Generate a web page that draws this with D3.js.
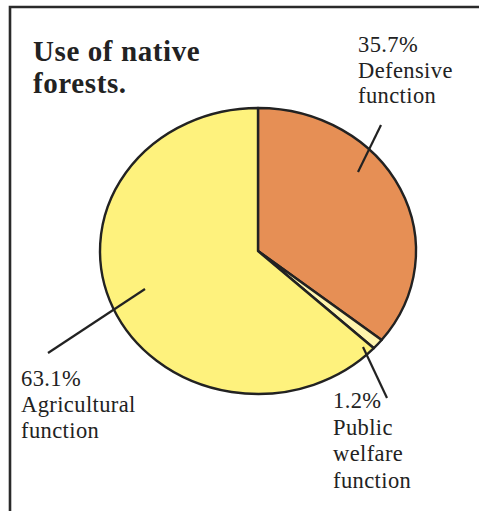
<!DOCTYPE html>
<html>
<head>
<meta charset="utf-8">
<script src="https://cdn.jsdelivr.net/npm/d3@7"></script>
<style>
  html, body { margin: 0; padding: 0; background: #fff; }
  svg { display: block; }
</style>
</head>
<body>
<svg id="chart" width="479" height="511"></svg>
<script>
// ---- data ----
const categories = ["Defensive function", "Public welfare function", "Agricultural function"];
const values = [35.7, 1.2, 63.1];
const valueLabels = ["35.7%", "1.2%", "63.1%"];
const labelLines = [["Defensive", "function"], ["Public", "welfare", "function"], ["Agricultural", "function"]];
const colors = ["#E68F55", "#FFF5AE", "#FEF27D"];
const titleLines = ["Use of native", "forests."];

// ---- layout ----
const W = 479, H = 511;
const cx = 258, cy = 251, rx = 158, ry = 143;
const labelLayout = [
  { x: 358, y: 52, step: 25.5, lead: [[358, 172], [381, 125]] },
  { x: 333, y: 408, step: 26.5, lead: [[363, 347], [387, 398]] },
  { x: 21, y: 386, step: 26, lead: [[145, 289], [48, 353]] }
];

const svg = d3.select("#chart");

// frame
svg.append("path")
  .attr("d", `M10,${H + 5} L10,7 L${W + 5},7`)
  .attr("fill", "none").attr("stroke", "#2a2a2a").attr("stroke-width", 2.6);

// title
const title = svg.append("text")
  .attr("font-family", "'Liberation Serif', 'Times New Roman', serif")
  .attr("font-weight", "bold").attr("font-size", 29)
  .attr("letter-spacing", 0.6)
  .attr("fill", "#222");
titleLines.forEach((t, i) => {
  title.append("tspan").attr("x", 33).attr("y", 61 + i * 32).text(t);
});

// pie (elliptical: circle of radius rx scaled vertically)
const pie = d3.pie().sort(null).value(d => d)(values);
const arc = d3.arc().innerRadius(0).outerRadius(rx);
const g = svg.append("g").attr("transform", `translate(${cx},${cy}) scale(1,${ry / rx})`);
g.selectAll("path").data(pie).join("path")
  .attr("d", arc)
  .attr("fill", (d, i) => colors[i])
  .attr("stroke", "#222")
  .attr("stroke-width", 2.4)
  .attr("stroke-linejoin", "round")
  .attr("vector-effect", "non-scaling-stroke");

// leader lines
svg.selectAll("line.lead").data(labelLayout).join("line")
  .attr("class", "lead")
  .attr("x1", d => d.lead[0][0]).attr("y1", d => d.lead[0][1])
  .attr("x2", d => d.lead[1][0]).attr("y2", d => d.lead[1][1])
  .attr("stroke", "#222").attr("stroke-width", 2.2);

// labels
categories.forEach((c, i) => {
  const L = labelLayout[i];
  const t = svg.append("text")
    .attr("font-family", "'Liberation Serif', 'Times New Roman', serif")
    .attr("font-size", 22.5).attr("letter-spacing", 0.4)
    .attr("fill", "#222");
  const lines = [valueLabels[i]].concat(labelLines[i]);
  lines.forEach((s, j) => {
    t.append("tspan").attr("x", L.x).attr("y", L.y + j * L.step).text(s);
  });
});
</script>
</body>
</html>
